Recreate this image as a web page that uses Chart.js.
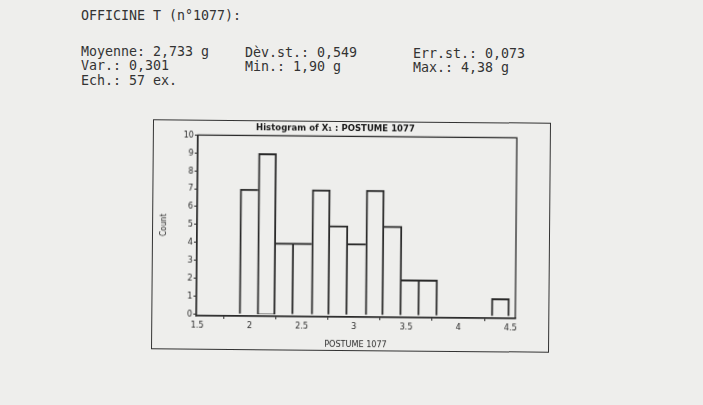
<!DOCTYPE html>
<html>
<head>
<meta charset="utf-8">
<script src="https://cdn.jsdelivr.net/npm/chart.js@4"></script>
<style>
  html, body { margin: 0; padding: 0; }
  body { width: 703px; height: 405px; background: #eeeeec; position: relative; overflow: hidden; }
  .t { position: absolute; font-family: "DejaVu Sans Mono", "Liberation Mono", monospace; font-size: 13.3px; color: #333; white-space: pre; line-height: 14px; }
  #box { position: absolute; left: 152px; top: 121px; width: 396px; height: 228px; border: 1.3px solid #333; transform: rotate(0.5deg); transform-origin: 50% 50%; }
  #box canvas { position: absolute; left: 0; top: 0; }
</style>
</head>
<body>
<div class="t" style="left:81px;top:9px">OFFICINE T (n°1077):</div>
<div class="t" style="left:81px;top:45px">Moyenne: 2,733 g</div>
<div class="t" style="left:81px;top:59px">Var.: 0,301</div>
<div class="t" style="left:81px;top:74px">Ech.: 57 ex.</div>
<div class="t" style="left:245px;top:46px">Dèv.st.: 0,549</div>
<div class="t" style="left:245px;top:60px">Min.: 1,90 g</div>
<div class="t" style="left:413px;top:47px">Err.st.: 0,073</div>
<div class="t" style="left:413px;top:61px">Max.: 4,38 g</div>

<div id="box"><canvas id="hist" width="396" height="228"></canvas></div>

<script>
// bin centres (width 0.1725, starting at 1.90)
const binCentres = [1.9863, 2.1588, 2.3313, 2.5038, 2.6763, 2.8488, 3.0213, 3.1938,
                    3.3663, 3.5388, 3.7113, 3.8838, 4.0563, 4.2288, 4.4013];
const counts = [7, 9, 4, 4, 7, 5, 4, 7, 5, 2, 2, 0, 0, 0, 1];
const xTicks = [1.5, 2, 2.5, 3, 3.5, 4, 4.5];
const yTicks = [0, 1, 2, 3, 4, 5, 6, 7, 8, 9, 10];

const chartFont = "'Liberation Sans Narrow', 'DejaVu Sans Condensed', 'Liberation Sans', sans-serif";
const ink = '#2a2a2a';
const lw = 1.3;

// shared edge between two bars is drawn once, by the taller one
const barBorder = ctx => {
  const i = ctx.dataIndex;
  const c = counts[i];
  const prev = i > 0 ? counts[i - 1] : 0;
  const next = i < counts.length - 1 ? counts[i + 1] : 0;
  return { top: lw, bottom: 0, left: c > prev ? lw : 0, right: c >= next ? lw : 0 };
};

// plot frame (all four sides)
const frame = {
  id: 'frame',
  afterDraw(chart) {
    const { ctx, chartArea: a } = chart;
    ctx.save();
    ctx.strokeStyle = ink;
    ctx.lineWidth = 1.3;
    ctx.strokeRect(a.left, a.top, a.right - a.left, a.bottom - a.top);
    ctx.restore();
  }
};

new Chart(document.getElementById('hist'), {
  type: 'bar',
  data: {
    datasets: [{
      label: 'POSTUME 1077',
      data: binCentres.map((x, i) => ({ x: x, y: counts[i] })),
      backgroundColor: 'rgba(0,0,0,0)',
      borderColor: ink,
      borderWidth: barBorder,
      borderSkipped: false,
      barPercentage: 1,
      categoryPercentage: 1
    }]
  },
  options: {
    responsive: false,
    animation: false,
    layout: { padding: { left: 0, right: 33, top: 0, bottom: 0 } },
    plugins: {
      legend: { display: false },
      tooltip: { enabled: false },
      title: {
        display: true,
        text: 'Histogram of X\u2081 : POSTUME 1077',
        color: '#1a1a1a',
        font: { family: chartFont, size: 9.5, weight: 'bold' },
        padding: { top: 1, bottom: 2 }
      }
    },
    scales: {
      x: {
        type: 'linear',
        offset: false,
        min: 1.49,
        max: 4.545,
        afterFit: s => { s.height = 33; },
        afterBuildTicks: s => { s.ticks = xTicks.map(v => ({ value: v })); },
        ticks: { color: ink, font: { family: chartFont, size: 9 }, padding: 1, maxRotation: 0,
                 callback: v => String(v) },
        grid: { drawOnChartArea: false, tickLength: 3, color: ink },
        border: { color: ink, width: 1.3 },
        title: { display: true, text: 'POSTUME 1077', color: ink,
                 font: { family: chartFont, size: 9 }, padding: { top: 1, bottom: 0 } }
      },
      y: {
        min: -0.1,
        max: 10,
        afterFit: s => { s.width = 44; },
        afterBuildTicks: s => { s.ticks = yTicks.map(v => ({ value: v })); },
        ticks: { color: ink, font: { family: chartFont, size: 9 }, padding: 1 },
        grid: { drawOnChartArea: false, tickLength: 3, color: ink },
        border: { color: ink, width: 1.3 },
        title: { display: true, text: 'Count', color: ink,
                 font: { family: chartFont, size: 8.5 }, padding: { top: 6, bottom: 0 } }
      }
    }
  },
  plugins: [frame]
});
</script>
</body>
</html>
